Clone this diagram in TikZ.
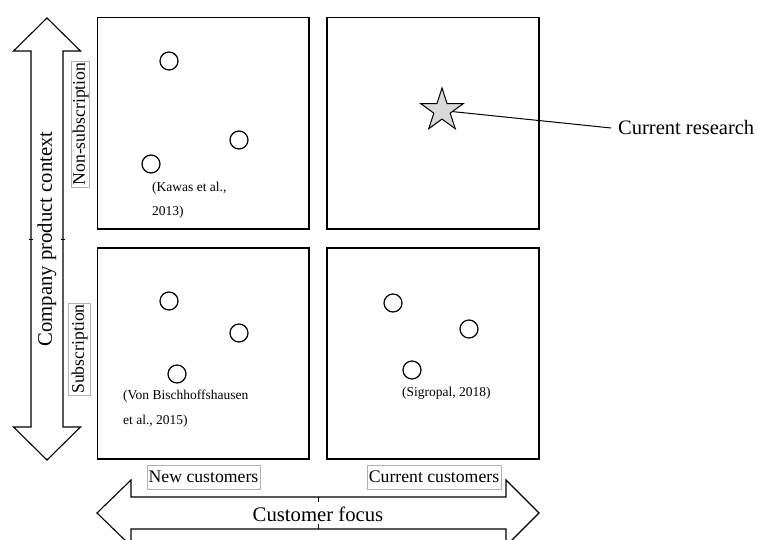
\documentclass[tikz,border=0pt]{standalone}
\usepackage{fontspec}
\setmainfont{Liberation Serif}
\usetikzlibrary{shapes.geometric}
\begin{document}
\begin{tikzpicture}[x=1pt,y=-1pt,
  quad/.style={draw, line width=1.2pt},
  dot/.style={circle, draw, line width=1.2pt, minimum size=18pt, inner sep=0pt},
  cite/.style={font=\fontsize{13.5}{24}\selectfont, inner sep=0pt, align=left, anchor=north west},
  tag/.style={draw=black!30, line width=0.8pt, font=\fontsize{17.7}{20}\selectfont, inner sep=0pt},
  bigarrow/.style={draw, line width=1.1pt, line join=miter},
  axislabel/.style={font=\fontsize{20.7}{24}\selectfont, inner sep=0pt},
  tick/.style={line width=0.8pt},
]
\useasboundingbox (0,0) rectangle (758,540);
\clip (0,0) rectangle (758,540);

% the four quadrants
\draw[quad] (97.5,17.5) rectangle (309,229);
\draw[quad] (327,17.5) rectangle (539,229);
\draw[quad] (97.5,248) rectangle (309,459);
\draw[quad] (327,248) rectangle (539,459);

% vertical axis: company product context
\draw[bigarrow] (47,18) -- (80.5,51) -- (63,51) -- (63,427) -- (80.5,427) -- (47,460)
  -- (13.5,427) -- (31,427) -- (31,51) -- (13.5,51) -- cycle;
\draw[tick] (29,239) -- (33,239);
\draw[tick] (61,239) -- (65,239);
\node[axislabel, rotate=90] (cpc) at (47,239) {Company product context};

% horizontal axis: customer focus
\draw[bigarrow] (97,513) -- (131,480) -- (131,497) -- (506,497) -- (506,480) -- (539,513)
  -- (506,546) -- (506,529) -- (131,529) -- (131,546) -- cycle;
\draw[tick] (318,497) -- (318,502);
\draw[tick] (318,529) -- (318,524);
\node[axislabel] (cf) at (318,514) {Customer focus};

% row and column tags
\node[tag, rotate=90, minimum width=126pt, minimum height=17.5pt] (nonsub) at (80.5,124) {Non-subscription};
\node[tag, rotate=90, minimum width=92pt, minimum height=22.5pt] (sub) at (79.5,349) {Subscription};
\node[tag, minimum width=113pt, minimum height=24pt] (newc) at (203.5,477) {New customers};
\node[tag, minimum width=134pt, minimum height=24pt] (curc) at (434,477) {Current customers};

% studies: non-subscription / new customers
\node[dot] (k1) at (169,61) {};
\node[dot] (k2) at (239,140) {};
\node[dot] (k3) at (151,164) {};
\node[cite] (kawas) at (152,181.5) {(Kawas et al.,\\2013)};

% studies: subscription / new customers
\node[dot] (v1) at (169,301) {};
\node[dot] (v2) at (239,333) {};
\node[dot] (v3) at (177,374) {};
\node[cite, font=\fontsize{13.5}{25}\selectfont] (vonb) at (123,389.5) {(Von Bischhoffshausen\\et al., 2015)};

% studies: subscription / current customers
\node[dot] (s1) at (393,303) {};
\node[dot] (s2) at (469,329) {};
\node[dot] (s3) at (412,370) {};
\node[cite] (sigro) at (402,387) {(Sigropal, 2018)};

% this study
\node[star, star points=5, star point ratio=2.618, minimum size=45pt, inner sep=0pt,
  draw, line width=1pt, fill=black!15] (cur) at (442,110.5) {};
\node[font=\fontsize{20.5}{24}\selectfont, anchor=base west, inner xsep=7pt, inner ysep=0pt] (research) at (611,135) {Current research};
\draw[line width=1pt] (cur) -- (research.west);
\end{tikzpicture}
\end{document}
